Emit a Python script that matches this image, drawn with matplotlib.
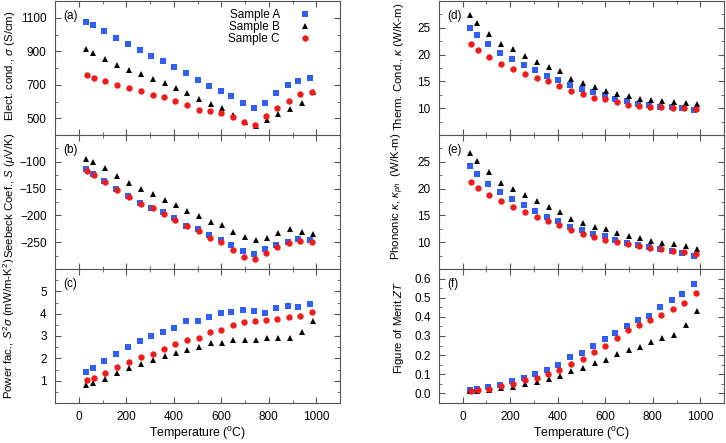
import matplotlib
matplotlib.use('Agg')
import matplotlib.pyplot as plt
from matplotlib.ticker import MultipleLocator

plt.rcParams['font.family'] = ['Liberation Sans', 'DejaVu Sans']
plt.rcParams['mathtext.fontset'] = 'custom'
plt.rcParams['mathtext.rm'] = 'Liberation Sans'
plt.rcParams['mathtext.it'] = 'Liberation Sans:italic'
plt.rcParams['mathtext.bf'] = 'Liberation Sans:bold'
plt.rcParams['font.size'] = 8.5

# temperatures (C) of each sample
tA = [30, 60, 105, 155, 206, 256, 306, 355, 401, 451, 500, 548, 598, 643, 690, 737, 785, 831, 879, 925, 974]
tB = [32, 62, 110, 161, 212, 264, 314, 362, 409, 457, 506, 555, 602, 651, 698, 746, 794, 841, 890, 938, 987]
tC = [34, 63, 111, 161, 212, 262, 313, 360, 407, 455, 505, 552, 600, 648, 694, 742, 788, 836, 884, 932, 981]

# (a) electrical conductivity
sigA = [1074, 1054, 1018, 980, 944, 907, 873, 841, 807, 769, 729, 695, 665, 633, 591, 559, 591, 653, 697, 725, 739]
sigB = [911, 889, 853, 815, 789, 765, 737, 709, 683, 649, 617, 586, 560, 522, 480, 454, 492, 528, 556, 591, 659]
sigC = [757, 741, 723, 701, 679, 661, 641, 625, 605, 580, 552, 544, 530, 508, 478, 460, 514, 562, 605, 645, 659]

# (b) Seebeck coefficient
seA = [-114, -122, -136, -150, -163, -176, -186, -194, -204, -219, -225, -236, -246, -255, -266, -272, -262, -256, -250, -244, -245]
seB = [-94, -100, -112, -127, -139, -151, -160, -172, -180, -192, -201, -212, -218, -231, -241, -246, -242, -233, -226, -231, -235]
seC = [-117, -124, -137, -153, -166, -178, -187, -198, -209, -220, -230, -243, -249, -264, -277, -282, -270, -259, -252, -247, -250]

# (c) power factor
pfA = [1.40, 1.55, 1.89, 2.20, 2.49, 2.78, 2.99, 3.17, 3.35, 3.66, 3.69, 3.87, 4.03, 4.08, 4.15, 4.11, 4.05, 4.24, 4.33, 4.30, 4.43]
pfB = [0.82, 0.91, 1.09, 1.34, 1.55, 1.76, 1.92, 2.12, 2.25, 2.38, 2.49, 2.67, 2.70, 2.83, 2.83, 2.80, 2.90, 2.90, 2.89, 3.19, 3.65]
pfC = [1.01, 1.12, 1.33, 1.62, 1.83, 2.07, 2.20, 2.43, 2.62, 2.80, 2.90, 3.19, 3.28, 3.51, 3.63, 3.65, 3.71, 3.75, 3.83, 3.90, 4.08]

# (d) thermal conductivity
kA = [24.9, 23.6, 21.9, 20.3, 19.1, 18.0, 17.1, 16.0, 15.3, 14.3, 13.6, 13.0, 12.4, 11.7, 11.4, 10.8, 10.6, 10.3, 10.2, 10.0, 9.75]
kB = [27.4, 25.9, 23.9, 22.0, 21.0, 19.7, 18.7, 17.6, 16.9, 15.5, 14.7, 13.9, 13.2, 12.7, 12.2, 11.7, 11.5, 11.3, 11.1, 10.9, 10.75]
kC = [21.9, 20.8, 19.5, 18.3, 17.3, 16.4, 15.7, 15.0, 14.2, 13.2, 12.6, 11.9, 11.7, 11.2, 10.6, 10.4, 10.25, 10.2, 10.1, 10.0, 9.8]

# (e) phononic thermal conductivity
kpA = [24.2, 22.8, 20.9, 19.3, 18.0, 16.9, 15.9, 14.7, 14.0, 12.9, 12.2, 11.6, 11.1, 10.5, 9.9, 9.4, 9.1, 8.7, 8.3, 7.9, 7.4]
kpB = [26.7, 25.1, 23.1, 21.1, 20.0, 18.8, 17.6, 16.5, 15.7, 14.4, 13.6, 12.9, 12.4, 11.8, 11.2, 10.8, 10.3, 9.9, 9.6, 9.2, 8.8]
kpC = [21.3, 20.2, 18.8, 17.6, 16.5, 15.6, 14.7, 14.0, 13.2, 12.2, 11.6, 11.0, 10.5, 10.0, 9.6, 9.25, 8.9, 8.7, 8.4, 8.1, 7.8]

# (f) figure of merit
ztA = [0.018, 0.021, 0.033, 0.046, 0.063, 0.082, 0.102, 0.125, 0.149, 0.188, 0.21, 0.246, 0.284, 0.318, 0.354, 0.384, 0.405, 0.451, 0.489, 0.518, 0.572]
ztB = [0.012, 0.014, 0.019, 0.026, 0.035, 0.047, 0.061, 0.077, 0.093, 0.115, 0.135, 0.16, 0.177, 0.204, 0.226, 0.242, 0.27, 0.288, 0.304, 0.358, 0.433]
ztC = [0.012, 0.018, 0.025, 0.037, 0.051, 0.07, 0.082, 0.102, 0.125, 0.154, 0.179, 0.219, 0.247, 0.289, 0.33, 0.36, 0.382, 0.409, 0.439, 0.47, 0.523]

names = ['Sample A', 'Sample B', 'Sample C']
colors = ['#2f5ff5', 'black', '#f01c1c']
marks = ['s', '^', 'o']
msizes = [4.2, 4.4, 4.6]

panels = [
    ('(a)', [sigA, sigB, sigC], r'Elect. cond., $\sigma$ (S/cm)', (400, 1200), 100, 0.52),
    ('(b)', [seA, seB, seC], r'Seebeck Coef., $S$ ($\mu$V/K)', (-300, -50), 25, 0.55),
    ('(c)', [pfA, pfB, pfC], r'Power fac., $S^2\sigma$ (mW/m-K$^2$)', (0, 6), 0.5, 0.56),
    ('(d)', [kA, kB, kC], r'Therm. Cond., $\kappa$ (W/K-m)', (5, 30), 2.5, 0.51),
    ('(e)', [kpA, kpB, kpC], r'Phononic $\kappa$, $\kappa_{ph}$  (W/K-m)', (5, 30), 2.5, 0.54),
    ('(f)', [ztA, ztB, ztC], r'Figure of Merit $ZT$', (-0.05, 0.65), 0.05, 0.56),
]
yticks = [[500, 700, 900, 1100], [-250, -200, -150, -100], [1, 2, 3, 4, 5],
          [10, 15, 20, 25], [10, 15, 20, 25], [0, 0.1, 0.2, 0.3, 0.4, 0.5, 0.6]]

fig = plt.figure(figsize=(7.26, 4.43), dpi=100)
W, H = 726, 443
temps = [tA, tB, tC]

for i, (tag, ys, lab, ylim, mnr, ly) in enumerate(panels):
    col = i // 3
    row = i % 3
    left = 55 if col == 0 else 439
    top = 1 + row * 134
    ax = fig.add_axes([left / W, 1 - (top + 134) / H, 285 / W, 134 / H])
    for t, y, c, m, s, n in zip(temps, ys, colors, marks, msizes, names):
        ax.plot(t, y, ls='none', marker=m, color=c, ms=s, mew=0, label=n)
    ax.set_xlim(-100, 1100)
    ax.set_ylim(*ylim)
    ax.set_yticks(yticks[i])
    if i == 5:
        ax.set_yticklabels(['%.1f' % v for v in yticks[i]])
    ax.yaxis.set_minor_locator(MultipleLocator(mnr))
    ax.xaxis.set_major_locator(MultipleLocator(200))
    ax.xaxis.set_minor_locator(MultipleLocator(100))
    ax.tick_params(which='both', direction='in', top=True, right=True,
                   color='#555555', pad=6)
    ax.tick_params(which='major', length=4)
    ax.tick_params(which='minor', length=2)
    for sp in ax.spines.values():
        sp.set_color('#555555')
    if row < 2:
        ax.set_xticklabels([])
    else:
        ax.set_xticks([0, 200, 400, 600, 800, 1000])
        ax.set_xlabel(r'Temperature ($^{\mathrm{o}}$C)', fontsize=8.8, labelpad=1)
    ax.set_ylabel(lab, fontsize=8.2)
    lx = -0.135 if col == 0 else -0.117
    ax.yaxis.set_label_coords(lx, ly)
    ax.text(0.03, 0.89, tag, transform=ax.transAxes, ha='left', va='center')
    if i == 0:
        ax.legend(loc='upper right', bbox_to_anchor=(0.93, 1.01), frameon=False,
                  markerfirst=False, labelspacing=0.0, handlelength=1.0,
                  handletextpad=1.6, borderpad=0.3)

fig.savefig('out.png', dpi=100)
